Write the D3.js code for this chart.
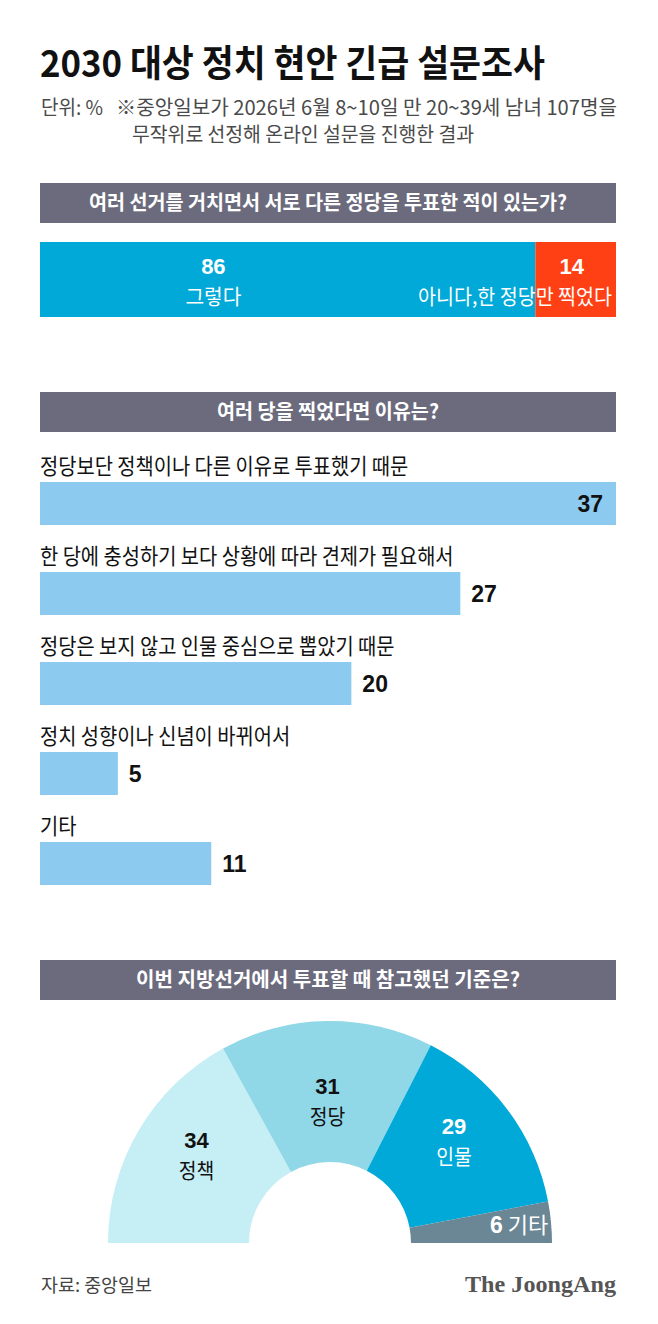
<!DOCTYPE html>
<html><head><meta charset="utf-8">
<script src="https://cdn.jsdelivr.net/npm/d3@7"></script>
<style>body{margin:0;background:#fff;} svg{display:block;}</style>
</head><body><svg id="c" width="658" height="1324"></svg>
<script>
// ---------- data ----------
const title = "2030 대상 정치 현안 긴급 설문조사";
const unitLabel = "단위: %";
const noteLines = ["※중앙일보가 2026년 6월 8~10일 만 20~39세 남녀 107명을", "무작위로 선정해 온라인 설문을 진행한 결과"];
const q1Title = "여러 선거를 거치면서 서로 다른 정당을 투표한 적이 있는가?";
const q1Categories = ["그렇다", "아니다,한 정당만 찍었다"];
const q1Values = [86, 14];
const q2Title = "여러 당을 찍었다면 이유는?";
const q2Categories = ["정당보단 정책이나 다른 이유로 투표했기 때문", "한 당에 충성하기 보다 상황에 따라 견제가 필요해서", "정당은 보지 않고 인물 중심으로 뽑았기 때문", "정치 성향이나 신념이 바뀌어서", "기타"];
const q2Values = [37, 27, 20, 5, 11];
const q3Title = "이번 지방선거에서 투표할 때 참고했던 기준은?";
const q3Categories = ["정책", "정당", "인물", "기타"];
const q3Values = [34, 31, 29, 6];
const source = "자료: 중앙일보";
const brand = "The JoongAng";

// ---------- styles ----------
const KR = "'Noto Sans CJK KR','Noto Sans',sans-serif";
const NUM = "'Liberation Sans',Arial,sans-serif";
const HEAD = "#6b6b7d";
const L = 40, R = 616;

const svg = d3.select("#c");

function fitTo(sel, w) {
  sel.attr("textLength", w).attr("lengthAdjust", "spacingAndGlyphs");
}
function condense(sel, f) {
  sel.each(function () {
    const w = this.getComputedTextLength();
    d3.select(this).attr("textLength", w * f).attr("lengthAdjust", "spacingAndGlyphs");
  });
}

// title
svg.append("text").attr("x", L).attr("y", 77).text(title)
  .attr("font-family", KR).attr("font-weight", 700).attr("font-size", 37).attr("fill", "#111")
  .call(fitTo, 505);
// subtitle
svg.append("text").attr("x", L + 1).attr("y", 115).text(unitLabel)
  .attr("font-family", KR).attr("font-size", 20).attr("fill", "#4a4a4a").call(fitTo, 62);
svg.append("text").attr("x", 116).attr("y", 115).text(noteLines[0])
  .attr("font-family", KR).attr("font-size", 20).attr("fill", "#4a4a4a").call(fitTo, 501);
svg.append("text").attr("x", 132).attr("y", 142).text(noteLines[1])
  .attr("font-family", KR).attr("font-size", 20).attr("fill", "#4a4a4a").call(fitTo, 342);

// section header
function header(y, txt, w) {
  svg.append("rect").attr("x", L).attr("y", y).attr("width", R - L).attr("height", 40).attr("fill", HEAD);
  svg.append("text").attr("x", (L + R) / 2).attr("y", y + 27).attr("text-anchor", "middle").text(txt)
    .attr("font-family", KR).attr("font-weight", 700).attr("font-size", 20).attr("fill", "#fff")
    .call(fitTo, w);
}

// ---------- Q1 stacked bar ----------
header(183, q1Title, 478);
const x1 = d3.scaleLinear().domain([0, d3.sum(q1Values)]).range([L, R]);
const cum = [0, ...d3.cumsum(q1Values)];
const q1Colors = ["#00a9d7", "#ff3f14"];
const g1 = svg.append("g");
g1.selectAll("rect").data(q1Values).join("rect")
  .attr("x", (d, i) => x1(cum[i])).attr("width", (d, i) => x1(cum[i + 1]) - x1(cum[i]))
  .attr("y", 242).attr("height", 75).attr("fill", (d, i) => q1Colors[i]);
// labels
g1.append("text").attr("x", x1(q1Values[0] * 0.35)).attr("y", 274).attr("text-anchor", "middle")
  .text(q1Values[0]).attr("font-family", NUM).attr("font-weight", 700).attr("font-size", 22).attr("fill", "#fff");
g1.append("text").attr("x", x1(q1Values[0] * 0.35)).attr("y", 304).attr("text-anchor", "middle")
  .text(q1Categories[0]).attr("font-family", KR).attr("font-size", 21).attr("fill", "#fff").call(fitTo, 56);
g1.append("text").attr("x", (x1(cum[1]) + x1(cum[2])) / 2 - 4).attr("y", 274).attr("text-anchor", "middle")
  .text(q1Values[1]).attr("font-family", NUM).attr("font-weight", 700).attr("font-size", 22).attr("fill", "#fff");
g1.append("text").attr("x", x1(cum[2]) - 4).attr("y", 304).attr("text-anchor", "end")
  .text(q1Categories[1]).attr("font-family", KR).attr("font-size", 21).attr("fill", "#fff").call(fitTo, 194);

// ---------- Q2 bars ----------
header(392, q2Title, 222);
const x2 = d3.scaleLinear().domain([0, d3.max(q2Values)]).range([0, R - L]);
const y2 = d3.scaleBand().domain(q2Categories).range([437, 887]);
const rows = svg.append("g").selectAll("g").data(q2Categories).join("g")
  .attr("transform", d => `translate(${L},${y2(d)})`);
rows.append("text").attr("x", 0).attr("y", 37).text(d => d)
  .attr("font-family", KR).attr("font-size", 22).attr("fill", "#111").call(condense, 0.9);
rows.append("rect").attr("x", 0).attr("y", 45).attr("height", 43)
  .attr("width", (d, i) => x2(q2Values[i])).attr("fill", "#8dcaf0");
rows.append("text")
  .attr("x", (d, i) => x2(q2Values[i]) >= (R - L) - 1 ? x2(q2Values[i]) - 13 : x2(q2Values[i]) + 11)
  .attr("text-anchor", (d, i) => x2(q2Values[i]) >= (R - L) - 1 ? "end" : "start")
  .attr("y", 75).text((d, i) => q2Values[i])
  .attr("font-family", NUM).attr("font-weight", 700).attr("font-size", 23).attr("fill", "#111");

// ---------- Q3 half donut ----------
header(960, q3Title, 384);
const cx = 330, cy = 1243, rOut = 222, rIn = 81;
const q3Colors = ["#c6eef5", "#90d7e7", "#00a9d7", "#6b8796"];
const q3Text = ["#111", "#111", "#fff", "#fff"];
const pie = d3.pie().sort(null).startAngle(-Math.PI / 2).endAngle(Math.PI / 2);
const arcs = pie(q3Values);
const arc = d3.arc().innerRadius(rIn).outerRadius(rOut);
const labelArc = d3.arc().innerRadius(155).outerRadius(155);
const smallArc = d3.arc().innerRadius(190).outerRadius(190);
const g3 = svg.append("g").attr("transform", `translate(${cx},${cy})`);
g3.selectAll("path").data(arcs).join("path").attr("d", arc).attr("fill", (d, i) => q3Colors[i]);
arcs.forEach((a, i) => {
  if (a.value >= 10) {
    let [lx, ly] = labelArc.centroid(a);
    ly = Math.max(ly, -0.6 * rOut);
    g3.append("text").attr("x", lx).attr("y", ly - 16).attr("text-anchor", "middle").text(a.value)
      .attr("font-family", NUM).attr("font-weight", 700).attr("font-size", 22).attr("fill", q3Text[i]);
    g3.append("text").attr("x", lx).attr("y", ly + 14).attr("text-anchor", "middle").text(q3Categories[i])
      .attr("font-family", KR).attr("font-size", 21).attr("fill", q3Text[i]).call(condense, 0.92);
  } else {
    const [lx, ly] = smallArc.centroid(a);
    const t = g3.append("text").attr("x", lx).attr("y", ly + 8).attr("text-anchor", "middle")
      .attr("fill", q3Text[i]);
    t.append("tspan").text(a.value).attr("font-family", NUM).attr("font-weight", 700).attr("font-size", 23);
    t.append("tspan").text(" " + q3Categories[i]).attr("font-family", KR).attr("font-size", 22);
  }
});

// ---------- footer ----------
svg.append("text").attr("x", L + 1).attr("y", 1292).text(source)
  .attr("font-family", KR).attr("font-size", 18).attr("fill", "#444").call(fitTo, 111);
svg.append("text").attr("x", R).attr("y", 1292).attr("text-anchor", "end").text(brand)
  .attr("font-family", "'Liberation Serif','DejaVu Serif',serif").attr("font-weight", 700)
  .attr("font-size", 23).attr("fill", "#555").call(fitTo, 151);
</script>
</body></html>
